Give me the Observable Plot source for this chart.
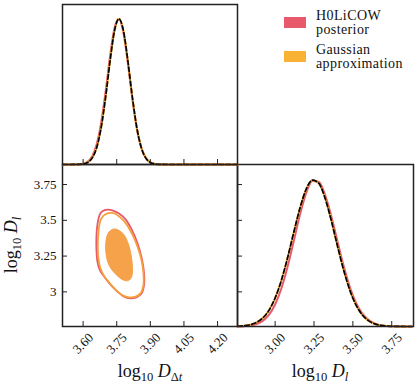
<!DOCTYPE html>
<html>
<head>
<meta charset="utf-8">
<script src="https://cdn.jsdelivr.net/npm/d3@7"></script>
<script src="https://cdn.jsdelivr.net/npm/@observablehq/plot@0.6"></script>
<style>
  html, body { margin: 0; padding: 0; background: white; }
  #wrap { position: relative; width: 415px; height: 388px; background: white; font-family: "Liberation Serif", serif; color: #111; overflow: hidden; }
  #wrap svg text { font-family: "Liberation Serif", serif; }
  .panel { position: absolute; }
  .lab { position: absolute; font-size: 18px; white-space: nowrap; line-height: 1; }
  .lab sub { font-size: 0.7em; vertical-align: -0.3em; }
  .leg { position: absolute; font-size: 14px; line-height: 14px; letter-spacing: 0.4px; }
  .sw { position: absolute; width: 22px; height: 11px; }
</style>
</head>
<body>
<div id="wrap"></div>
<script>
// ---------- data ----------
const xTicksDt = [3.60, 3.75, 3.90, 4.05, 4.20];
const yTicksDl = [3.0, 3.25, 3.5, 3.75];
const xTicksDl = [3.00, 3.25, 3.50, 3.75];

const dtDomain = [3.508, 4.289];
const dlDomain = [2.758, 3.89];

// 1D marginal of log10 D_dt (normalised density)
const dtGrid = [3.51, 3.54, 3.56, 3.58, 3.60, 3.62, 3.64, 3.66, 3.68, 3.70, 3.72, 3.74, 3.76, 3.78, 3.80, 3.82, 3.84, 3.86, 3.88, 3.90, 3.92, 3.94, 3.96, 4.00, 4.10, 4.20, 4.289];
const dtPosterior = [0, 0, 0.0003, 0.0014, 0.0055, 0.019, 0.055, 0.135, 0.282, 0.496, 0.740, 0.935, 0.999, 0.904, 0.693, 0.449, 0.247, 0.115, 0.045, 0.015, 0.0042, 0.001, 0.0002, 0, 0, 0, 0];
const dtGaussian  = [0, 0, 0.0002, 0.0009, 0.0039, 0.014, 0.044, 0.114, 0.249, 0.458, 0.707, 0.917, 1.0, 0.917, 0.707, 0.458, 0.249, 0.114, 0.044, 0.014, 0.0039, 0.0009, 0.0002, 0, 0, 0, 0];

// 1D marginal of log10 D_l
const dlGrid = [2.76, 2.80, 2.84, 2.88, 2.92, 2.96, 3.00, 3.04, 3.08, 3.12, 3.16, 3.20, 3.24, 3.28, 3.32, 3.36, 3.40, 3.44, 3.48, 3.52, 3.56, 3.60, 3.64, 3.68, 3.72, 3.76, 3.80, 3.84, 3.88];
const dlPosterior = [0.0008, 0.0025, 0.0068, 0.0169, 0.0384, 0.0796, 0.150, 0.259, 0.407, 0.583, 0.763, 0.911, 0.992, 0.986, 0.901, 0.757, 0.585, 0.415, 0.271, 0.163, 0.0897, 0.0455, 0.0213, 0.0091, 0.0036, 0.0013, 0.0004, 0.0001, 0];
const dlGaussian  = [0.0018, 0.0049, 0.0121, 0.0276, 0.0573, 0.110, 0.194, 0.314, 0.468, 0.642, 0.808, 0.936, 0.997, 0.977, 0.879, 0.728, 0.554, 0.388, 0.249, 0.147, 0.080, 0.040, 0.018, 0.0078, 0.0030, 0.0011, 0.0004, 0.0001, 0];

// 2D contours (log10 D_dt, log10 D_l)
const innerX = [3.7429, 3.7754, 3.7978, 3.8125, 3.8201, 3.8170, 3.8022, 3.7786, 3.7487, 3.7187, 3.7040, 3.7009, 3.7085, 3.7232];
const innerY = [3.4396, 3.4115, 3.3525, 3.2711, 3.1770, 3.1068, 3.0787, 3.0836, 3.1187, 3.1770, 3.2472, 3.3293, 3.3996, 3.4298];
const outerPostX = [3.6742, 3.6861, 3.7085, 3.7338, 3.7605, 3.7903, 3.8171, 3.8424, 3.8617, 3.8721, 3.8721, 3.8617, 3.8379, 3.8082, 3.7829, 3.7531, 3.7233, 3.6936, 3.6742, 3.6638, 3.6594, 3.6594, 3.6638];
const outerPostY = [3.5400, 3.5634, 3.5751, 3.5681, 3.5470, 3.5049, 3.4346, 3.3410, 3.2357, 3.1303, 3.0484, 2.9899, 2.9618, 2.9548, 2.9665, 3.0016, 3.0484, 3.1070, 3.1538, 3.2123, 3.2942, 3.3878, 3.4698];
const outerGaussX = [3.6832, 3.6980, 3.7189, 3.7427, 3.7680, 3.7948, 3.8201, 3.8424, 3.8602, 3.8692, 3.8692, 3.8587, 3.8349, 3.8051, 3.7784, 3.7486, 3.7189, 3.6936, 3.6772, 3.6683, 3.6653, 3.6683, 3.6742];
const outerGaussY = [3.5166, 3.5400, 3.5517, 3.5470, 3.5166, 3.4698, 3.3995, 3.3176, 3.2240, 3.1303, 3.0484, 2.9946, 2.9665, 2.9618, 2.9735, 3.0086, 3.0601, 3.1116, 3.1655, 3.2357, 3.3176, 3.4112, 3.4815];

// ---------- styling ----------
const RED = "#e8596b";
const ORANGE = "#f9b233";
const ORANGE_LINE = "#f5a03c";
const FILL = "#f6a24a";
const INK = "#222";
const SERIF = "Liberation Serif, serif";
const zip = (xs, ys) => xs.map((x, i) => ({x, y: ys[i]}));
const baseStyle = {background: "transparent", overflow: "visible", fontFamily: SERIF, fontSize: "13px", color: "#111"};

const wrap = document.getElementById("wrap");
function place(svg, left, top) {
  svg.classList.add("panel");
  svg.style.left = left + "px";
  svg.style.top = top + "px";
  svg.style.position = "absolute";
  wrap.appendChild(svg);
}

// Panel C (bottom right): D_l marginal
const pC = Plot.plot({
  width: 176, height: 162 + 45,
  marginTop: 0, marginLeft: 0, marginRight: 0, marginBottom: 45,
  x: {domain: dlDomain, axis: null},
  y: {domain: [0, 1.104], axis: null},
  style: baseStyle,
  marks: [
    Plot.line(zip(dlGrid, dlPosterior), {x: "x", y: "y", stroke: RED, strokeWidth: 2, curve: "monotone-x"}),
    Plot.line(zip(dlGrid, dlGaussian), {x: "x", y: "y", stroke: ORANGE, strokeWidth: 2, curve: "monotone-x"}),
    Plot.line(zip(dlGrid, dlGaussian), {x: "x", y: "y", stroke: "black", strokeWidth: 1.7, strokeDasharray: "4.5,2.5", curve: "monotone-x"}),
    Plot.tickX(xTicksDl, {x: d => d, insetTop: 157, stroke: INK, strokeWidth: 1}),
    Plot.text(xTicksDl, {x: d => d, text: d => d3.format(".2f")(d), frameAnchor: "bottom", dy: 17, rotate: -45, textAnchor: "middle", lineAnchor: "middle", fontSize: 13, fontFamily: SERIF, fill: "#111"}),
    Plot.frame({stroke: INK, strokeWidth: 1.5})
  ]
});
place(pC, 237, 164);

// Panel B (bottom left): 2D contours
const pB = Plot.plot({
  width: 62 + 175, height: 162 + 45,
  marginTop: 0, marginLeft: 62, marginRight: 0, marginBottom: 45,
  x: {domain: dtDomain, axis: null},
  y: {domain: dlDomain, axis: null},
  style: baseStyle,
  marks: [
    Plot.line(zip(innerX, innerY), {x: "x", y: "y", fill: FILL, stroke: FILL, strokeWidth: 1, curve: "catmull-rom-closed"}),
    Plot.line(zip(outerPostX, outerPostY), {x: "x", y: "y", stroke: RED, strokeWidth: 1.8, curve: "catmull-rom-closed"}),
    Plot.line(zip(outerGaussX, outerGaussY), {x: "x", y: "y", stroke: ORANGE_LINE, strokeWidth: 1.8, curve: "catmull-rom-closed"}),
    Plot.tickX(xTicksDt, {x: d => d, insetTop: 157, stroke: INK, strokeWidth: 1}),
    Plot.tickY(yTicksDl, {y: d => d, insetRight: 170, stroke: INK, strokeWidth: 1}),
    Plot.tickY(yTicksDl, {y: d => d, insetLeft: 170, dx: 5, stroke: INK, strokeWidth: 1}),
    Plot.text(yTicksDl, {y: d => d, text: d => String(d), frameAnchor: "left", dx: -6, textAnchor: "end", fontSize: 13, fontFamily: SERIF, fill: "#111"}),
    Plot.text(xTicksDt, {x: d => d, text: d => d3.format(".2f")(d), frameAnchor: "bottom", dy: 17, rotate: -45, textAnchor: "middle", lineAnchor: "middle", fontSize: 13, fontFamily: SERIF, fill: "#111"}),
    Plot.frame({stroke: INK, strokeWidth: 1.5})
  ]
});
place(pB, 0, 164);

// Panel A (top left): D_dt marginal
const pA = Plot.plot({
  width: 175, height: 160,
  marginTop: 0, marginLeft: 0, marginRight: 0, marginBottom: 0,
  x: {domain: dtDomain, axis: null},
  y: {domain: [0, 1.098], axis: null},
  style: baseStyle,
  marks: [
    Plot.line(zip(dtGrid, dtPosterior), {x: "x", y: "y", stroke: RED, strokeWidth: 2, curve: "monotone-x"}),
    Plot.line(zip(dtGrid, dtGaussian), {x: "x", y: "y", stroke: ORANGE, strokeWidth: 2, curve: "monotone-x"}),
    Plot.line(zip(dtGrid, dtGaussian), {x: "x", y: "y", stroke: "black", strokeWidth: 1.7, strokeDasharray: "4.5,2.5", curve: "monotone-x"}),
    Plot.tickX(xTicksDt, {x: d => d, insetTop: 155, stroke: INK, strokeWidth: 1}),
    Plot.frame({stroke: INK, strokeWidth: 1.5})
  ]
});
place(pA, 62, 4);

// Axis titles
function addLabel(html, css) {
  const d = document.createElement("div");
  d.className = "lab";
  d.innerHTML = html;
  Object.assign(d.style, css);
  wrap.appendChild(d);
}
addLabel('log<sub>10</sub> <i>D</i><sub>Δ<i>t</i></sub>', {left: "150px", top: "362px", transform: "translateX(-50%)"});
addLabel('log<sub>10</sub> <i>D</i><sub><i>l</i></sub>', {left: "320px", top: "362px", transform: "translateX(-50%)"});
addLabel('log<sub>10</sub> <i>D</i><sub><i>l</i></sub>', {left: "13px", top: "245px", transform: "translate(-50%, -50%) rotate(-90deg)"});

// Legend
const legendItems = [
  {color: RED, lines: ["H0LiCOW", "posterior"], top: 9, swTop: 17},
  {color: ORANGE, lines: ["Gaussian", "approximation"], top: 43, swTop: 51}
];
for (const it of legendItems) {
  const sw = document.createElement("div");
  sw.className = "sw";
  Object.assign(sw.style, {left: "284px", top: it.swTop + "px", background: it.color});
  wrap.appendChild(sw);
  const t = document.createElement("div");
  t.className = "leg";
  t.innerHTML = it.lines.join("<br>");
  Object.assign(t.style, {left: "316px", top: it.top + "px"});
  wrap.appendChild(t);
}
</script>
</body>
</html>
